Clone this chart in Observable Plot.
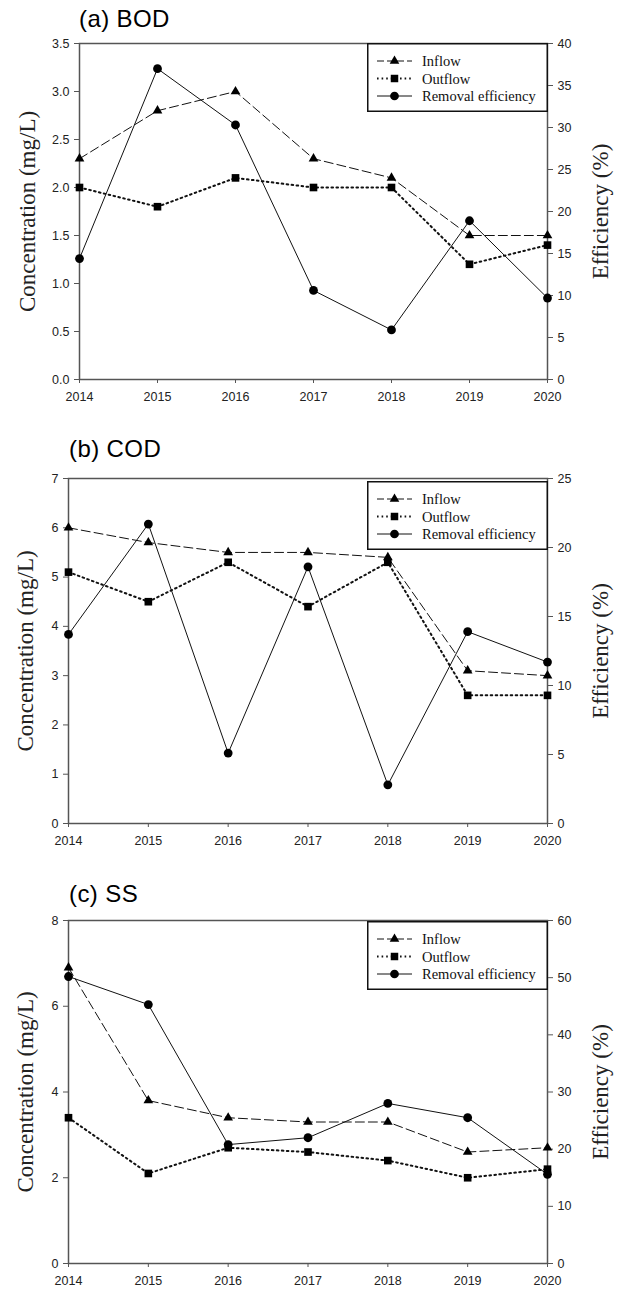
<!DOCTYPE html>
<html>
<head>
<meta charset="utf-8">
<script src="https://cdn.jsdelivr.net/npm/d3@7"></script>
<script src="https://cdn.jsdelivr.net/npm/@observablehq/plot@0.6"></script>
<style>
  html, body { margin: 0; padding: 0; background: #fff; }
  #page { position: relative; width: 622px; height: 1293px; background: #fff; overflow: hidden; }
  .ptitle { position: absolute; font-family: "Liberation Sans", Arial, sans-serif; font-size: 24px; letter-spacing: 0.4px; color: #000; white-space: nowrap; line-height: 1; }
  .chart { position: absolute; left: 0; }
  .legend { position: absolute; }
</style>
</head>
<body>
<div id="page"></div>
<script>
// ---------- data ----------
const years = [2014, 2015, 2016, 2017, 2018, 2019, 2020];

const bodInflow     = [2.3, 2.8, 3.0, 2.3, 2.1, 1.5, 1.5];
const bodOutflow    = [2.0, 1.8, 2.1, 2.0, 2.0, 1.2, 1.4];
const bodEfficiency = [14.4, 37.0, 30.3, 10.6, 5.9, 18.9, 9.7];

const codInflow     = [6.0, 5.7, 5.5, 5.5, 5.4, 3.1, 3.0];
const codOutflow    = [5.1, 4.5, 5.3, 4.4, 5.3, 2.6, 2.6];
const codEfficiency = [13.7, 21.7, 5.1, 18.6, 2.8, 13.9, 11.7];

const ssInflow      = [6.9, 3.8, 3.4, 3.3, 3.3, 2.6, 2.7];
const ssOutflow     = [3.4, 2.1, 2.7, 2.6, 2.4, 2.0, 2.2];
const ssEfficiency  = [50.2, 45.3, 20.8, 22.0, 28.0, 25.5, 15.6];

const bodConcTicks = [0, 0.5, 1.0, 1.5, 2.0, 2.5, 3.0, 3.5];
const bodEffTicks  = [0, 5, 10, 15, 20, 25, 30, 35, 40];
const codConcTicks = [0, 1, 2, 3, 4, 5, 6, 7];
const codEffTicks  = [0, 5, 10, 15, 20, 25];
const ssConcTicks  = [0, 2, 4, 6, 8];
const ssEffTicks   = [0, 10, 20, 30, 40, 50, 60];

const panelTitles  = ["(a) BOD", "(b) COD", "(c) SS"];
const seriesNames  = ["Inflow", "Outflow", "Removal efficiency"];
const leftLabel    = "Concentration (mg/L)";
const rightLabel   = "Efficiency (%)";

// ---------- layout ----------
const W = 622, plotRight = 547;
const panels = [
  { title: panelTitles[0], inflow: bodInflow, outflow: bodOutflow, eff: bodEfficiency,
    concTicks: bodConcTicks, effTicks: bodEffTicks, fmt: d => d.toFixed(1),
    top: 43, bottom: 379, left: 79, titleX: 79, titleY: 7, legTop: 43, leftLabelX: 27 },
  { title: panelTitles[1], inflow: codInflow, outflow: codOutflow, eff: codEfficiency,
    concTicks: codConcTicks, effTicks: codEffTicks, fmt: d => String(d),
    top: 478, bottom: 823, left: 68, titleX: 69, titleY: 437, legTop: 481, leftLabelX: 25 },
  { title: panelTitles[2], inflow: ssInflow, outflow: ssOutflow, eff: ssEfficiency,
    concTicks: ssConcTicks, effTicks: ssEffTicks, fmt: d => String(d),
    top: 920, bottom: 1263, left: 68, titleX: 69, titleY: 882, legTop: 921, leftLabelX: 25 }
];

const page = document.getElementById("page");
const AX = "#555";
const SERIF = "'Liberation Serif', 'Times New Roman', serif";

panels.forEach(p => {
  const yMax = d3.max(p.concTicks);
  const effMax = d3.max(p.effTicks);
  const k = yMax / effMax;
  const mt = 10, mb = 36;
  const H = (p.bottom - p.top) + mt + mb;

  const rows = years.map((yr, i) => ({ year: yr, inflow: p.inflow[i], outflow: p.outflow[i], eff: p.eff[i] * k }));

  const chart = Plot.plot({
    width: W, height: H,
    marginLeft: p.left, marginRight: W - plotRight, marginTop: mt, marginBottom: mb,
    x: { domain: [2014, 2020] },
    y: { domain: [0, yMax] },
    style: { fontFamily: "'Liberation Sans', Arial, sans-serif", fontSize: "12.5px", background: "transparent", overflow: "visible" },
    marks: [
      Plot.frame({ stroke: AX, strokeWidth: 1.5 }),
      Plot.axisX(years, { tickFormat: d => String(d), tickSize: 4, tickPadding: 9, label: null, stroke: AX, fill: "#222" }),
      Plot.axisY(p.concTicks, { tickFormat: p.fmt, tickSize: 5, tickPadding: 5, label: null, stroke: AX, fill: "#222" }),
      Plot.axisY(p.effTicks.map(t => t * k), { anchor: "right", tickFormat: d => String(Math.round(d / k)), tickSize: 5, tickPadding: 5, label: null, stroke: AX, fill: "#222" }),
      Plot.text([leftLabel], { frameAnchor: "left", textAnchor: "middle", dx: p.leftLabelX - p.left, rotate: -90, fontFamily: SERIF, fontSize: 23, fill: "#222" }),
      Plot.text([rightLabel], { frameAnchor: "right", textAnchor: "middle", dx: 600 - plotRight, rotate: -90, fontFamily: SERIF, fontSize: 23, fill: "#222" }),
      Plot.line(rows, { x: "year", y: "inflow", stroke: "#111", strokeWidth: 1, strokeDasharray: "9,4" }),
      Plot.line(rows, { x: "year", y: "outflow", stroke: "#111", strokeWidth: 2, strokeDasharray: "1.6,3.4" }),
      Plot.line(rows, { x: "year", y: "eff", stroke: "#111", strokeWidth: 1 }),
      Plot.dot(rows, { x: "year", y: "inflow", symbol: "triangle", r: 3.6, fill: "#000", stroke: "none" }),
      Plot.dot(rows, { x: "year", y: "outflow", symbol: "square", r: 4.3, fill: "#000", stroke: "none" }),
      Plot.dot(rows, { x: "year", y: "eff", symbol: "circle", r: 4.4, fill: "#000", stroke: "none" })
    ]
  });
  chart.classList.add("chart");
  chart.style.top = (p.top - mt) + "px";
  page.appendChild(chart);

  // title
  const t = document.createElement("div");
  t.className = "ptitle";
  t.textContent = p.title;
  t.style.left = p.titleX + "px";
  t.style.top = p.titleY + "px";
  page.appendChild(t);

  // legend overlay
  const lw = 181, lh = 69;
  const leg = d3.create("svg").attr("class", "legend").attr("width", lw).attr("height", lh)
    .style("left", (plotRight - lw + 1) + "px").style("top", p.legTop + "px");
  leg.append("rect").attr("x", 0.75).attr("y", 0.75).attr("width", lw - 1.5).attr("height", lh - 1.5)
    .attr("fill", "#fff").attr("stroke", "#111").attr("stroke-width", 1.5);
  const styles = [
    { dash: "7,3", sw: 1, sym: d3.symbolTriangle, size: 40 },
    { dash: "1.6,3", sw: 2, sym: d3.symbolSquare, size: 56 },
    { dash: null, sw: 1, sym: d3.symbolCircle, size: 60 }
  ];
  seriesNames.forEach((name, i) => {
    const cy = 18 + i * 17.5;
    const s = styles[i];
    const ln = leg.append("line").attr("x1", 10).attr("x2", 45).attr("y1", cy).attr("y2", cy)
      .attr("stroke", "#111").attr("stroke-width", s.sw);
    if (s.dash) ln.attr("stroke-dasharray", s.dash);
    leg.append("path").attr("d", d3.symbol(s.sym, s.size)()).attr("transform", `translate(27.5,${cy})`).attr("fill", "#000");
    leg.append("text").attr("x", 55).attr("y", cy).attr("dy", "0.35em")
      .attr("font-family", SERIF).attr("font-size", 14.5).attr("fill", "#111")
      .text(name);
  });
  page.appendChild(leg.node());
});
</script>
</body>
</html>
